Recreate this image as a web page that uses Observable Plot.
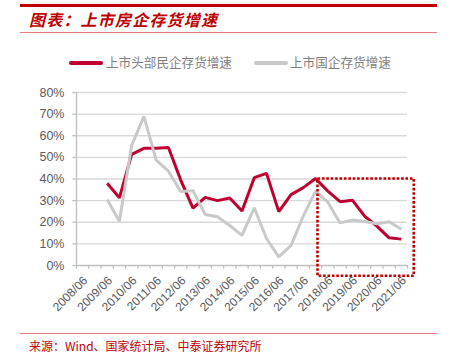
<!DOCTYPE html>
<html>
<head>
<meta charset="utf-8">
<script src="https://cdn.jsdelivr.net/npm/d3@7"></script>
<script src="https://cdn.jsdelivr.net/npm/@observablehq/plot@0.6"></script>
<style>
  body { margin: 0; background: #fff; }
  #root { position: relative; width: 450px; height: 353px; overflow: hidden; font-family: "Noto Sans CJK SC", "Liberation Sans", sans-serif; }
  .abs { position: absolute; }
  #topline { left: 20px; top: 4px; width: 417px; height: 2.5px; background: #c00000; }
  #title { left: 29px; top: 7px; font-size: 16px; font-weight: bold; font-style: italic; color: #c00000; letter-spacing: 1.2px; line-height: 24px; white-space: nowrap; }
  #subline { left: 20px; top: 32px; width: 417px; height: 1px; background: #e57f7f; }
  #legend { left: 0; top: 52px; width: 450px; height: 20px; font-size: 12.6px; color: #7f7f7f; }
  .sw { position: absolute; top: 9px; height: 3.5px; width: 34px; border-radius: 2px; }
  .lt { position: absolute; top: 0; line-height: 20px; white-space: nowrap; }
  #plot { left: 0; top: 75px; }
  #botline { left: 20px; top: 333px; width: 417px; height: 1px; background: #e57f7f; }
  #source { left: 29px; top: 339px; font-size: 12px; color: #c00000; line-height: 14px; white-space: nowrap; }
</style>
</head>
<body>
<div id="root">
  <div id="topline" class="abs"></div>
  <div id="title" class="abs">图表：上市房企存货增速</div>
  <div id="subline" class="abs"></div>
  <div id="legend" class="abs"></div>
  <div id="plot" class="abs"></div>
  <div id="botline" class="abs"></div>
  <div id="source" class="abs">来源：Wind、国家统计局、中泰证券研究所</div>
</div>
<script>
// ---- data ----
const categories = [
  "2008/06","2008/12","2009/06","2009/12","2010/06","2010/12","2011/06","2011/12",
  "2012/06","2012/12","2013/06","2013/12","2014/06","2014/12","2015/06","2015/12",
  "2016/06","2016/12","2017/06","2017/12","2018/06","2018/12","2019/06","2019/12",
  "2020/06","2020/12","2021/06"
];
const seriesNames = ["上市头部民企存货增速", "上市国企存货增速"];
const privateTop = [null, null, 38, 31.3, 51.4, 54.2, 54.2, 54.6, 39.5, 26.5, 31.5, 30, 31.2, 25.2, 40.6, 42.6, 24.9, 32.8, 36, 40.2, 34.4, 29.5, 30.2, 22.8, 18.2, 12.8, 12.2];
const stateOwned = [null, null, 30.5, 20.5, 55.5, 69, 48.7, 43.6, 34.2, 34.6, 23.6, 22.5, 18.5, 13.9, 26.7, 12.5, 4, 9.3, 22.8, 34.4, 29.3, 19.7, 21, 20.3, 19.3, 20.2, 16.8];
const yTicks = [0, 10, 20, 30, 40, 50, 60, 70, 80];
const highlight = [{from: 19.7, to: 27.55, low: -5, high: 40}]; // in category-index / percent units

const colors = ["#c0002f", "#c9c9c9"];

// ---- legend ----
const legend = document.getElementById("legend");
const legendPos = [{sw: 69, tx: 106}, {sw: 254, tx: 290}];
seriesNames.forEach((name, k) => {
  const s = document.createElement("div");
  s.className = "sw"; s.style.left = legendPos[k].sw + "px"; s.style.background = colors[k];
  legend.appendChild(s);
  const t = document.createElement("div");
  t.className = "lt"; t.style.left = legendPos[k].tx + "px"; t.textContent = name;
  legend.appendChild(t);
});

// ---- table ----
const rows = categories.map((c, i) => ({i: i + 0.5, cat: c, v: privateTop[i], s: seriesNames[0]}));
const rows2 = categories.map((c, i) => ({i: i + 0.5, cat: c, v: stateOwned[i], s: seriesNames[1]}));
const labelRows = categories.map((c, i) => ({i: i + 0.5, cat: c})).filter((d, k) => k % 2 === 0);

const chart = Plot.plot({
  width: 450,
  height: 255,
  marginTop: 17,
  marginBottom: 65,
  marginLeft: 76,
  marginRight: 43,
  x: {type: "linear", domain: [0, categories.length], axis: null},
  y: {domain: [0, 80], axis: null},
  style: {fontFamily: "'Liberation Sans', Arial, sans-serif", background: "transparent", overflow: "visible"},
  marks: [
    Plot.ruleY(yTicks.filter(d => d > 0), {stroke: "#d9d9d9", strokeWidth: 1.3}),
    Plot.ruleX([0], {y1: 0, y2: 80, stroke: "#bfbfbf", strokeWidth: 1.3}),
    Plot.ruleY(yTicks, {x1: 0, x2: -0.3, stroke: "#bfbfbf", strokeWidth: 1.3}),
    Plot.ruleY([0], {stroke: "#bfbfbf", strokeWidth: 1.3}),
    Plot.ruleX(d3.range(categories.length + 1), {y1: 0, y2: -1.7, stroke: "#bfbfbf", strokeWidth: 1.3}),
    Plot.text(yTicks, {x: 0, y: d => d, text: d => d + "%", textAnchor: "end", dx: -12, fontSize: 12.5, fill: "#595959"}),
    Plot.line(rows.filter(d => d.v != null), {x: "i", y: "v", stroke: colors[0], strokeWidth: 3, strokeLinejoin: "miter", strokeLinecap: "butt"}),
    Plot.line(rows2.filter(d => d.v != null), {x: "i", y: "v", stroke: colors[1], strokeWidth: 3, strokeLinejoin: "miter", strokeLinecap: "butt"}),
    Plot.rect(highlight, {x1: "from", x2: "to", y1: "low", y2: "high", fill: "none", stroke: "#c00000", strokeWidth: 2.6, strokeDasharray: "2.6,1.8"}),
    Plot.text(labelRows, {x: "i", y: 0, text: "cat", rotate: -45, textAnchor: "end", dx: 3, dy: 13, fontSize: 12, fill: "#595959"})
  ]
});
document.getElementById("plot").appendChild(chart);
</script>
</body>
</html>
